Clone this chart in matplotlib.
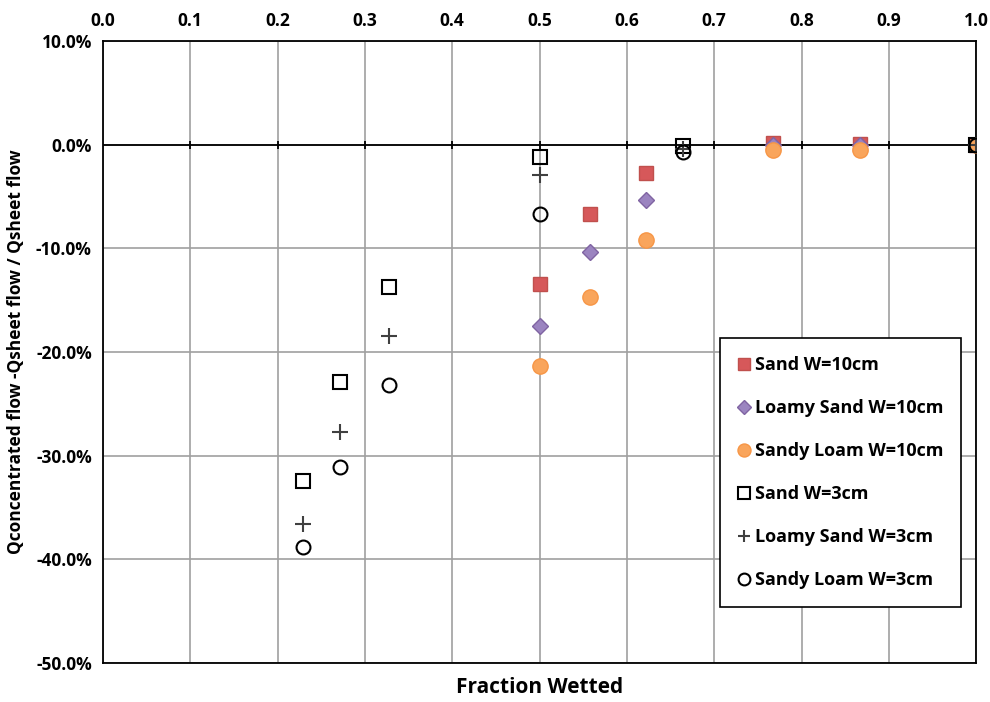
import numpy as np
import matplotlib
matplotlib.use('Agg')
import matplotlib.pyplot as plt

plt.rcParams['font.family'] = ['Open Sans', 'DejaVu Sans']
plt.rcParams['font.weight'] = 'bold'

# fraction wetted / relative flow difference (%)
x_sand10 = [0.5, 0.558, 0.622, 0.767, 0.867, 1.0]
y_sand10 = [-13.4, -6.7, -2.7, 0.2, 0.1, 0.0]
x_loamy10 = [0.5, 0.558, 0.622, 0.767, 0.867, 1.0]
y_loamy10 = [-17.5, -10.4, -5.3, 0.0, 0.0, 0.0]
x_sandyl10 = [0.5, 0.558, 0.622, 0.767, 0.867, 1.0]
y_sandyl10 = [-21.4, -14.7, -9.2, -0.5, -0.5, 0.0]

x_sand3 = [0.229, 0.271, 0.328, 0.5, 0.664, 1.0]
y_sand3 = [-32.4, -22.9, -13.7, -1.2, -0.1, 0.0]
x_loamy3 = [0.229, 0.271, 0.328, 0.5, 0.664, 1.0]
y_loamy3 = [-36.6, -27.7, -18.5, -2.9, -0.4, 0.0]
x_sandyl3 = [0.229, 0.271, 0.328, 0.5, 0.664, 1.0]
y_sandyl3 = [-38.8, -31.1, -23.2, -6.7, -0.7, 0.0]

xticks = np.arange(0, 1.01, 0.1)
yticks = np.arange(-50, 10.1, 10)

fig = plt.figure(figsize=(9.9, 7.02), dpi=100)
ax = fig.add_axes([0.104, 0.0556, 0.882, 0.886])

ax.plot(x_sand10, y_sand10, 's', ms=10, mfc='#d6585a', mec='#c0504d', label='Sand W=10cm', zorder=3)
ax.plot(x_loamy10, y_loamy10, 'D', ms=8, mfc='#9b84c0', mec='#8064a2', label='Loamy Sand W=10cm', zorder=3)
ax.plot(x_sandyl10, y_sandyl10, 'o', ms=11, mfc='#f9a55c', mec='#f79646', label='Sandy Loam W=10cm', zorder=3)
ax.plot(x_sand3, y_sand3, 's', ms=10, mfc='none', mec='black', mew=1.5, label='Sand W=3cm', zorder=4)
ax.plot(x_loamy3, y_loamy3, '+', ms=11, color='#404040', mew=1.5, label='Loamy Sand W=3cm', zorder=4)
ax.plot(x_sandyl3, y_sandyl3, 'o', ms=10, mfc='none', mec='black', mew=1.5, label='Sandy Loam W=3cm', zorder=4)

# zero line with small ticks
ax.axhline(0, color='black', lw=1.3, zorder=2)
ax.plot(xticks[1:-1], np.zeros(len(xticks) - 2), '|', color='black', ms=6, mew=1.3, zorder=2)

ax.set_xlim(0, 1)
ax.set_ylim(-50, 10)
ax.set_xticks(xticks)
ax.set_yticks(yticks)
ax.set_xticklabels(['%.1f' % v for v in xticks], fontsize=12.5, fontweight='bold')
ax.set_yticklabels(['%.1f%%' % v for v in yticks], fontsize=12.5, fontweight='bold')
ax.xaxis.tick_top()
ax.tick_params(length=0, pad=8)
ax.grid(True, color='#a0a0a0', lw=1.2)
ax.set_axisbelow(True)
for s in ax.spines.values():
    s.set_linewidth(1.3)
    s.set_color('black')

ax.set_xlabel('Fraction Wetted', fontsize=15, fontweight='bold', labelpad=10)
ax.xaxis.set_label_position('bottom')
ax.set_ylabel('Qconcentrated flow -Qsheet flow / Qsheet flow', fontsize=12.5, fontweight='bold', labelpad=8)

leg = ax.legend(loc='lower left', bbox_to_anchor=(0.707, 0.09), borderaxespad=0, fontsize=13,
                labelspacing=1.38, handlelength=0.6, handletextpad=0.3, borderpad=1.0, fancybox=False,
                framealpha=1, edgecolor='black', markerscale=0.85)
leg.get_frame().set_linewidth(1.2)
for t in leg.get_texts():
    t.set_fontweight('bold')

fig.savefig('out.png', dpi=100)
